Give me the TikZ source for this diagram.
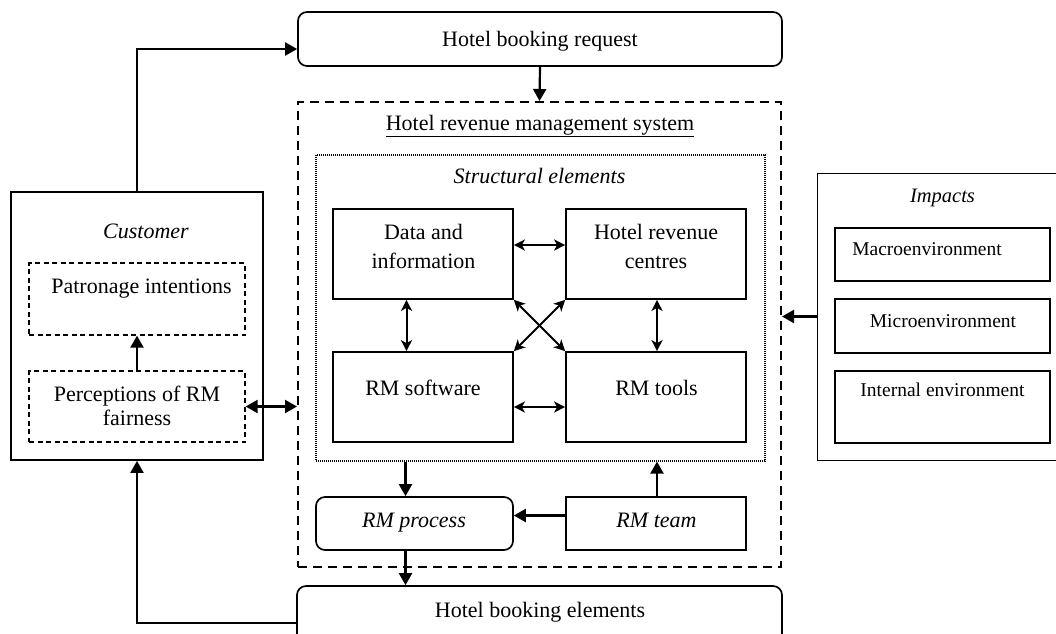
\documentclass[tikz,border=0pt]{standalone}
\usepackage{fontspec}
\setmainfont{Liberation Serif}
\usetikzlibrary{arrows.meta,calc}
\begin{document}
\begin{tikzpicture}[x=1pt,y=-1pt,
  box/.style={draw, line width=1.7pt, inner sep=0pt},
  rbox/.style={box, rounded corners=9pt},
  dbox/.style={draw, line width=1.3pt, dash pattern=on 5pt off 3.5pt, inner sep=0pt},
  sysbox/.style={draw, line width=2pt, dash pattern=on 9pt off 6pt, inner sep=0pt},
  dotbox/.style={draw, line width=1.1pt, dash pattern=on 1pt off 1pt, inner sep=0pt},
  impbox/.style={draw, line width=1pt, inner sep=0pt},
  txt/.style={font=\fontsize{22}{26}\selectfont, inner sep=0pt, align=center},
  itxt/.style={font=\fontsize{22}{26}\selectfont\itshape, inner sep=0pt, align=center},
  stxt/.style={font=\fontsize{19.5}{23}\selectfont, inner sep=0pt},
  arr/.style={line width=2.2pt, -{Triangle[length=12pt,width=13pt]}},
  darr/.style={line width=2.2pt, {Triangle[length=12pt,width=13pt]}-{Triangle[length=12pt,width=13pt]}},
  sarr/.style={line width=2pt, {Stealth[length=11pt,width=11pt,inset=3pt]}-{Stealth[length=11pt,width=11pt,inset=3pt]}}
]
\useasboundingbox (0,0) rectangle (1056,633);
\clip (0,0) rectangle (1056,633);

% top request
\node[rbox, minimum width=484pt, minimum height=54pt] (req) at (540,39) {};
\node[txt, anchor=base] (reqt) at (540,46) {Hotel booking request};

% system box
\node[sysbox, minimum width=483pt, minimum height=465pt] (hrms) at (539.5,334.5) {};
\node[txt, anchor=base] (hrmst) at (540,130) {\underline{Hotel revenue management system}};

% structural elements
\node[dotbox, minimum width=449pt, minimum height=306pt] (struct) at (540.5,308) {};
\node[itxt, anchor=base] (structt) at (539.5,183) {Structural elements};

\node[box, minimum width=180pt, minimum height=90pt] (data) at (423,254) {};
\node[txt, font=\fontsize{22}{29}\selectfont] (datat) at (423.5,246) {Data and\\information};
\node[box, minimum width=180pt, minimum height=90pt] (hrc) at (656,254) {};
\node[txt, font=\fontsize{22}{29}\selectfont] (hrct) at (656,246) {Hotel revenue\\centres};
\node[box, minimum width=180pt, minimum height=90pt] (sw) at (423,397) {};
\node[txt, anchor=base] (swt) at (423,395) {RM software};
\node[box, minimum width=180pt, minimum height=90pt] (tools) at (656,397) {};
\node[txt, anchor=base] (toolst) at (656.5,395) {RM tools};

% process & team
\node[rbox, minimum width=197pt, minimum height=53pt] (proc) at (414.5,523.5) {};
\node[itxt, anchor=base] (proct) at (414,527) {RM process};
\node[box, minimum width=180pt, minimum height=53pt] (team) at (656,523.5) {};
\node[itxt, anchor=base] (teamt) at (656.5,527) {RM team};

% booking elements
\node[rbox, minimum width=485pt, minimum height=74pt] (elem) at (539.5,623) {};
\node[txt, anchor=base] (elemt) at (540,617) {Hotel booking elements};

% customer
\node[box, minimum width=252pt, minimum height=268pt] (cust) at (137,326) {};
\node[itxt, anchor=base] (custt) at (146,238) {Customer};
\node[dbox, minimum width=216pt, minimum height=72pt] (pat) at (137,299) {};
\node[txt, anchor=base] (patt) at (141.5,293) {Patronage intentions};
\node[dbox, minimum width=216pt, minimum height=71pt] (perc) at (137,406.5) {};
\node[txt, font=\fontsize{22}{24}\selectfont] (perct) at (137,405.5) {Perceptions of RM\\fairness};

% impacts
\node[impbox, minimum width=260pt, minimum height=287pt] (imp) at (947,316.5) {};
\node[itxt, anchor=base, font=\fontsize{20.5}{24}\selectfont\itshape] (impt) at (942.5,202) {Impacts};
\node[box, minimum width=215pt, minimum height=53pt] (macro) at (942.5,254.5) {};
\node[stxt, anchor=base] (macrot) at (927,255) {Macroenvironment};
\node[box, minimum width=215pt, minimum height=54pt] (micro) at (942.5,326) {};
\node[stxt, anchor=base] (microt) at (943,327) {Microenvironment};
\node[box, minimum width=215pt, minimum height=72pt] (intern) at (942.5,407) {};
\node[stxt, anchor=base] (internt) at (942.5,396) {Internal environment};

% connectors
\draw[arr] (cust.north) |- ([yshift=-10pt]req.west);
\draw[arr] (req.south) -- (hrms.north);
\draw[arr] (imp.west) -- (imp.west -| hrms.east);
\draw[darr] (perc.east) -- (perc.east -| hrms.west);
\draw[arr] (perc.north) -- (pat.south);
\draw[arr] (elem.west) -| (cust.south);

\draw[sarr] ([yshift=9pt]data.east) -- ([yshift=9pt]hrc.west);
\draw[sarr] ([yshift=-10pt]sw.east) -- ([yshift=-10pt]tools.west);
\draw[sarr] ([xshift=-16.5pt]data.south) -- ([xshift=-16.5pt]sw.north);
\draw[sarr] ([xshift=1pt]hrc.south) -- ([xshift=1pt]tools.north);
\draw[sarr] (data.south east) -- (tools.north west);
\draw[sarr] (hrc.south west) -- (sw.north east);

\draw[arr] ([xshift=-9pt]proc.north |- struct.south) -- ([xshift=-9pt]proc.north);
\draw[arr] ([xshift=1pt]team.north) -- ([xshift=1pt]team.north |- struct.south);
\draw[arr] ([yshift=8pt]team.west) -- ([yshift=8pt]proc.east);
\draw[arr] ([xshift=-9pt]proc.south) -- ([xshift=-9pt]proc.south |- elem.north);
\end{tikzpicture}
\end{document}
